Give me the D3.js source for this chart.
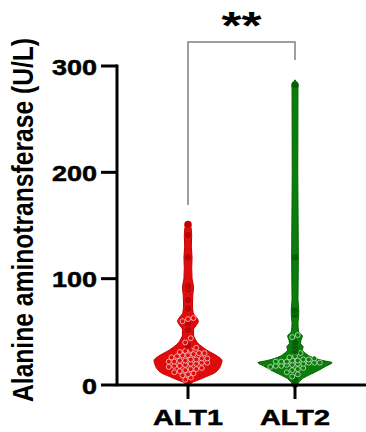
<!DOCTYPE html>
<html>
<head>
  <script src="https://cdn.jsdelivr.net/npm/d3@7/dist/d3.min.js"></script>
  <style>
    body { margin: 0; background: #fff; }
    text { font-family: "Liberation Sans", Arial, sans-serif; font-weight: bold; }
  </style>
</head>
<body>
<div id="chart"></div>
<script>
  // groups and tick labels
  var categories = ['ALT1', 'ALT2'];
  var yTicks = [0, 100, 200, 300];
  var yTitle = 'Alanine aminotransferase (U/L)';
  var sigLabel = '**';

  // individual ALT values (U/L)
  var alt1Values = [2, 5, 7, 9, 10, 11, 12, 13, 14, 15, 15, 16, 17, 18, 18, 19, 20, 20, 21, 21,
    22, 22, 23, 23, 24, 24, 25, 25, 26, 27, 28, 28, 29, 30, 30, 31, 32, 33, 35, 37,
    40, 44, 52, 58, 60, 62, 63, 72, 80, 90, 93, 120, 141, 151];
  var alt2Values = [1, 5, 8, 10, 12, 14, 15, 16, 17, 18, 18, 19, 19, 20, 20, 21, 21, 21, 22, 22,
    22, 23, 23, 24, 24, 25, 26, 27, 30, 32, 36, 40, 45, 47, 66, 70, 120, 282];

  // violin outline: [value, relative half width]
  var alt1Density = [[0, 0.03], [3, 0.15], [5, 0.3], [8, 0.5], [11, 0.7], [15, 0.83], [20, 0.9],
    [23, 0.92], [27, 0.8], [30, 0.65], [33, 0.5], [36, 0.38], [40, 0.25], [43, 0.2], [47, 0.15],
    [52, 0.15], [56, 0.22], [60, 0.28], [64, 0.22], [68, 0.14], [75, 0.12], [85, 0.13], [92, 0.15],
    [100, 0.11], [110, 0.1], [120, 0.11], [130, 0.09], [141, 0.1], [150, 0.07], [153, 0]];
  var alt2Density = [[0, 0.03], [3, 0.12], [6, 0.2], [10, 0.42], [14, 0.65], [18, 0.85], [21, 1.0],
    [23, 0.75], [25, 0.55], [27, 0.4], [30, 0.28], [33, 0.2], [36, 0.22], [39, 0.15], [42, 0.16],
    [46, 0.2], [50, 0.1], [58, 0.08], [66, 0.1], [71, 0.1], [80, 0.08], [120, 0.09], [200, 0.075],
    [280, 0.08], [287, 0]];

  var groups = [
    {name: 'ALT1', values: alt1Values, density: alt1Density, fill: '#e00c0c', dot: '#c40000'},
    {name: 'ALT2', values: alt2Values, density: alt2Density, fill: '#0b7d0b', dot: '#026202'}
  ];

  var W = 366, H = 432;

  var svg = d3.select('#chart').append('svg')
      .attr('width', W)
      .attr('height', H);

  var y = d3.scaleLinear().domain([0, 300]).range([385, 66]);
  var x = d3.scalePoint().domain(categories).range([188, 295]);
  var halfW = d3.scaleLinear().domain([0, 1]).range([0, 37]);

  // violins
  groups.forEach(function(g) {
    var cx = x(g.name);
    var area = d3.area()
        .y(function(d) { return y(d[0]); })
        .x0(function(d) { return cx - halfW(d[1]); })
        .x1(function(d) { return cx + halfW(d[1]); })
        .curve(d3.curveMonotoneY);

    svg.append('path')
        .attr('d', area(g.density))
        .attr('fill', g.fill)
        .attr('stroke', g.dot)
        .attr('stroke-width', 1);

    // simple swarm: bin by pixel row, spread sideways
    var bins = d3.group(g.values, function(v) { return Math.round(y(v) / 5); });
    bins.forEach(function(vals) {
      var single = vals.length === 1;
      vals.forEach(function(v, i) {
        svg.append('circle')
            .attr('cx', cx + (i - (vals.length - 1) / 2) * 5.5)
            .attr('cy', y(v))
            .attr('r', single ? 3.8 : 2.5)
            .attr('fill', single ? g.dot : g.fill)
            .attr('stroke', '#fff')
            .attr('stroke-opacity', single ? 0.1 : 0.75)
            .attr('stroke-width', 0.8);
      });
    });
  });

  // y axis
  svg.append('line')
      .attr('x1', 117).attr('x2', 117)
      .attr('y1', y(300) - 1.5).attr('y2', y(0))
      .attr('stroke', '#000').attr('stroke-width', 3);
  yTicks.forEach(function(t) {
    svg.append('line')
        .attr('x1', 101).attr('x2', 117)
        .attr('y1', y(t)).attr('y2', y(t))
        .attr('stroke', '#000').attr('stroke-width', 3);
    svg.append('text')
        .attr('x', 97)
        .attr('y', y(t) + 8.5)
        .attr('text-anchor', 'end')
        .attr('font-size', 22)
        .attr('textLength', String(t).length * 15)
        .attr('lengthAdjust', 'spacingAndGlyphs')
        .attr('stroke', '#000')
        .attr('stroke-width', 0.5)
        .text(t);
  });

  // x axis
  svg.append('line')
      .attr('x1', 116).attr('x2', W)
      .attr('y1', y(0)).attr('y2', y(0))
      .attr('stroke', '#000').attr('stroke-width', 3);
  categories.forEach(function(c) {
    svg.append('line')
        .attr('x1', x(c)).attr('x2', x(c))
        .attr('y1', y(0)).attr('y2', 399)
        .attr('stroke', '#000').attr('stroke-width', 3);
    svg.append('text')
        .attr('x', x(c))
        .attr('y', 425)
        .attr('text-anchor', 'middle')
        .attr('font-size', 22)
        .attr('textLength', 70)
        .attr('lengthAdjust', 'spacingAndGlyphs')
        .attr('stroke', '#000')
        .attr('stroke-width', 0.5)
        .text(c);
  });

  // axis title
  svg.append('text')
      .attr('transform', 'translate(33,220) scale(1.15,1) rotate(-90)')
      .attr('text-anchor', 'middle')
      .attr('font-size', 26)
      .attr('textLength', 364)
      .attr('lengthAdjust', 'spacingAndGlyphs')
      .text(yTitle);

  // significance bracket
  svg.append('path')
      .attr('d', ['M', x('ALT1'), 205, 'L', x('ALT1'), 42, 'L', x('ALT2'), 42, 'L', x('ALT2'), 60].join(' '))
      .attr('fill', 'none')
      .attr('stroke', '#808080')
      .attr('stroke-width', 1.5);
  svg.append('text')
      .attr('x', (x('ALT1') + x('ALT2')) / 2)
      .attr('y', 39)
      .attr('text-anchor', 'middle')
      .attr('font-size', 38)
      .attr('textLength', 40)
      .attr('lengthAdjust', 'spacingAndGlyphs')
      .text(sigLabel);
</script>
</body>
</html>
